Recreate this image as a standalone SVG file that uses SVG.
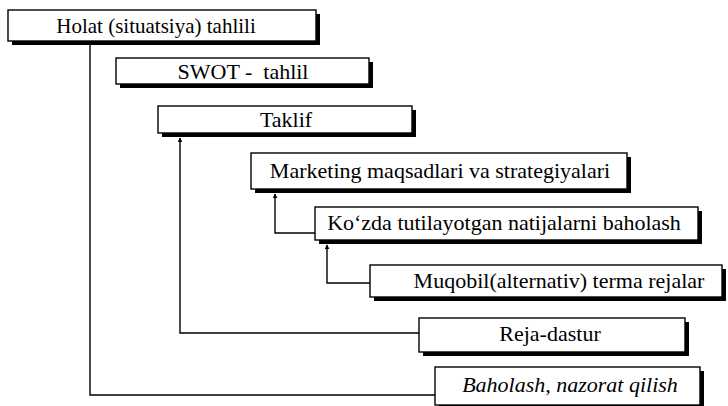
<svg xmlns="http://www.w3.org/2000/svg" width="728" height="406" viewBox="0 0 728 406">
<defs>
<style>
.sh{fill:#000}
.bx{fill:#fff;stroke:#000;stroke-width:1.4}
text{font-family:'Liberation Serif','Times New Roman',serif;font-size:22px;fill:#000;text-anchor:middle}
.c{fill:none;stroke:#000;stroke-width:1.4}
</style>
<marker id="ah" viewBox="0 0 8 8" refX="7" refY="4" markerWidth="5" markerHeight="5" markerUnits="userSpaceOnUse" orient="auto">
<path d="M0,0 L8,4 L0,8 z" fill="#000"/>
</marker>
</defs>
<rect width="728" height="406" fill="#fff"/>
<g id="connectors">
<path class="c" d="M435 395 H90 V43"/>
<path class="c" d="M419 333 H180 V138" marker-end="url(#ah)"/>
<path class="c" d="M315 233 H275 V194" marker-end="url(#ah)"/>
<path class="c" d="M370 283 H327 V245" marker-end="url(#ah)"/>
</g>
<g id="n1">
<rect class="sh" x="12" y="14" width="308" height="31"/>
<rect class="bx" x="8" y="10" width="308" height="31"/>
<text x="156" y="33" style="font-size:21px">Holat (situatsiya) tahlili</text>
</g>
<g id="n2">
<rect class="sh" x="120" y="62" width="253" height="26"/>
<rect class="bx" x="116" y="58" width="253" height="26"/>
<text x="243" y="79">SWOT -&#160; tahlil</text>
</g>
<g id="n3">
<rect class="sh" x="162" y="110" width="254" height="27"/>
<rect class="bx" x="158" y="106" width="254" height="27"/>
<text x="286" y="127">Taklif</text>
</g>
<g id="n4">
<rect class="sh" x="255" y="157" width="376" height="36"/>
<rect class="bx" x="251" y="153" width="376" height="36"/>
<text x="440" y="178">Marketing maqsadlari va strategiyalari</text>
</g>
<g id="n5">
<rect class="sh" x="319" y="211" width="383" height="33"/>
<rect class="bx" x="315" y="207" width="383" height="33"/>
<text x="504" y="230">Ko‘zda tutilayotgan natijalarni baholash</text>
</g>
<g id="n6">
<rect class="sh" x="374" y="269" width="352" height="32"/>
<rect class="bx" x="370" y="265" width="352" height="32"/>
<text x="559" y="288">Muqobil(alternativ) terma rejalar</text>
</g>
<g id="n7">
<rect class="sh" x="423" y="322" width="266" height="34"/>
<rect class="bx" x="419" y="318" width="266" height="34"/>
<text x="550" y="341">Reja-dastur</text>
</g>
<g id="n8">
<rect class="sh" x="439" y="371" width="265" height="38"/>
<rect class="bx" x="435" y="367" width="265" height="38"/>
<text x="570" y="392" font-style="italic">Baholash, nazorat qilish</text>
</g>
</svg>
